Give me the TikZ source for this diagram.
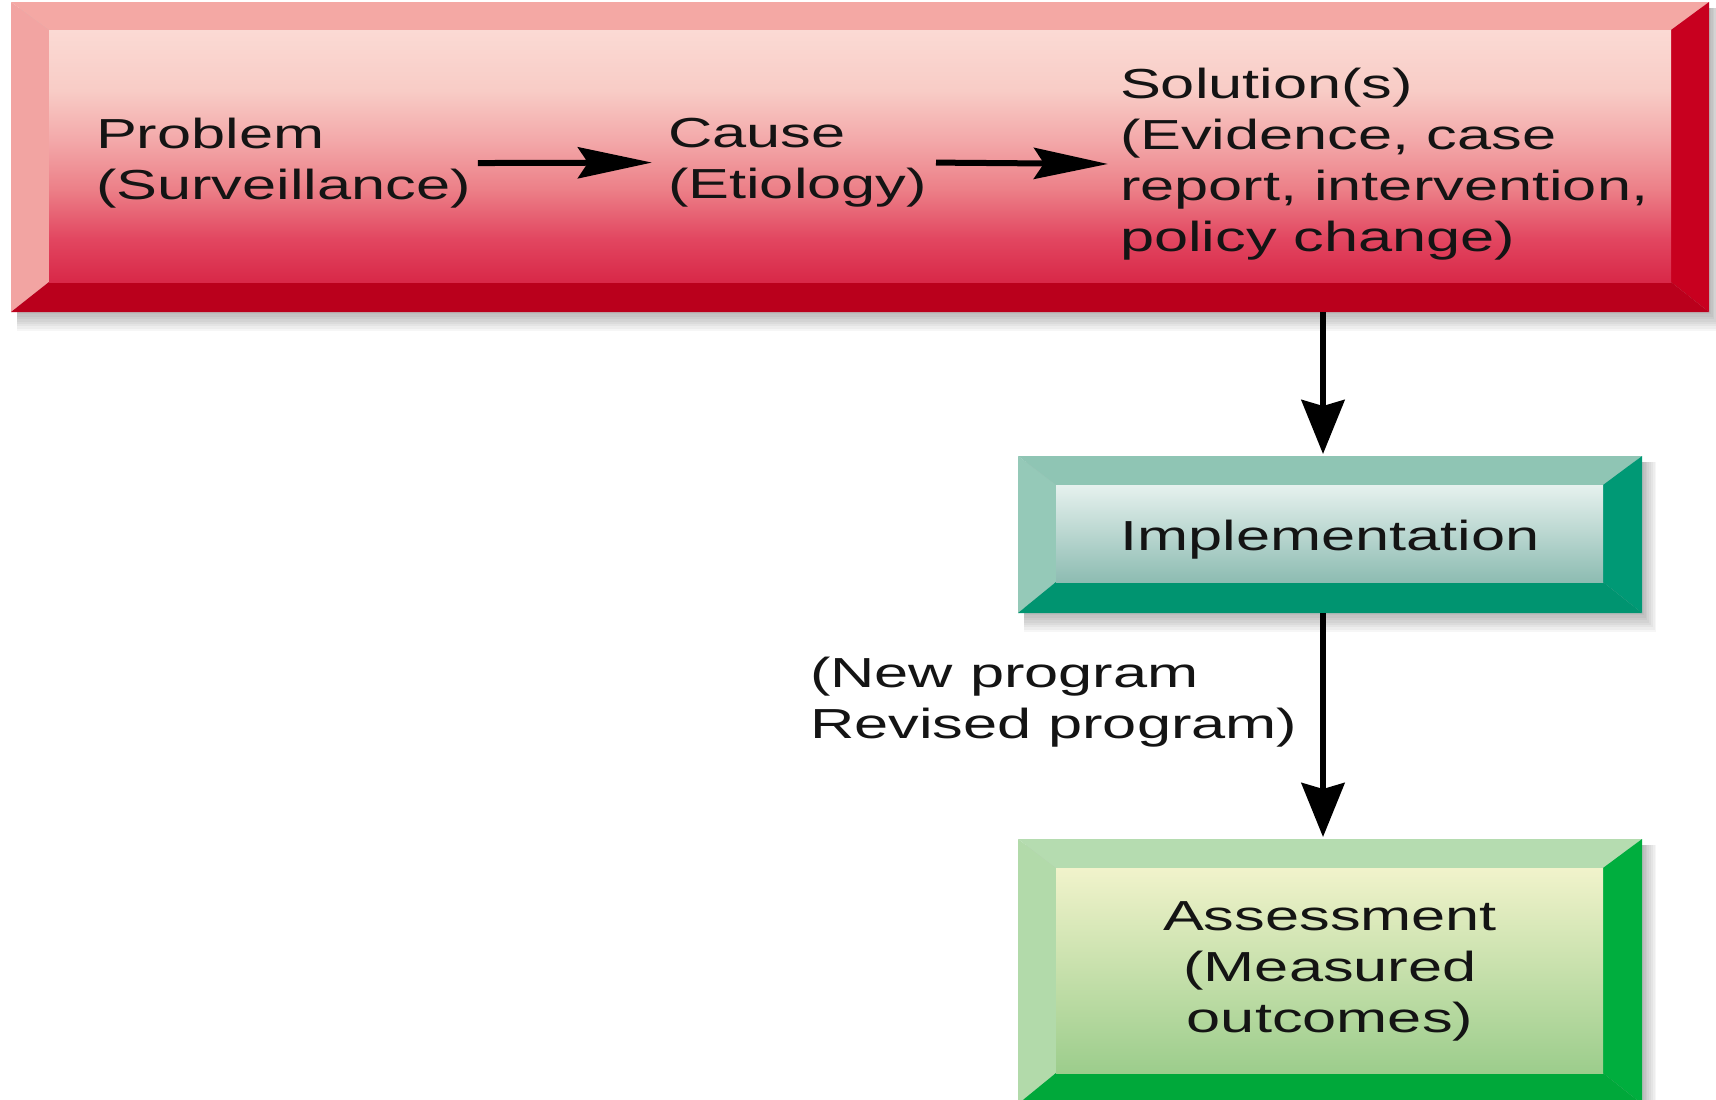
\documentclass[tikz,border=0pt]{standalone}
\usepackage{fontspec}
\setmainfont{Liberation Sans}[FakeStretch=1.46]
\usetikzlibrary{arrows.meta,calc}
\definecolor{redL}{HTML}{F2A4A2}
\definecolor{redT}{HTML}{F4A8A4}
\definecolor{redR}{HTML}{C8001F}
\definecolor{redB}{HTML}{BA001C}
\definecolor{redS0}{HTML}{D82848}
\definecolor{redS1}{HTML}{E24660}
\definecolor{redS2}{HTML}{EC8088}
\definecolor{redS3}{HTML}{F3A8A9}
\definecolor{redS4}{HTML}{F8CCC6}
\definecolor{redS5}{HTML}{FBDAD4}
\definecolor{tealL}{HTML}{95C9B8}
\definecolor{tealT}{HTML}{8FC5B4}
\definecolor{tealR}{HTML}{009975}
\definecolor{tealB}{HTML}{009470}
\definecolor{tealTop}{HTML}{E6F1EE}
\definecolor{tealMid}{HTML}{C4DDD7}
\definecolor{tealBot}{HTML}{8DBCB2}
\definecolor{grnL}{HTML}{B2DAAA}
\definecolor{grnT}{HTML}{B5DCB0}
\definecolor{grnR}{HTML}{00AE3E}
\definecolor{grnB}{HTML}{00A83A}
\definecolor{grnTop}{HTML}{F1F3CB}
\definecolor{grnMid}{HTML}{D0E6B0}
\definecolor{grnBot}{HTML}{9CCD8C}
\definecolor{txt}{HTML}{141414}
\pgfdeclareverticalshading{redpanel}{100bp}{color(0bp)=(redS0); color(25bp)=(redS0); color(33.5bp)=(redS1); color(43.5bp)=(redS2); color(53bp)=(redS3); color(63bp)=(redS4); color(75bp)=(redS5); color(100bp)=(redS5)}
\tikzset{
  outerbox/.style={rectangle, inner sep=0pt, outer sep=0pt},
  lbl/.style={font=\fontsize{42}{51}\selectfont, inner sep=0pt, outer sep=0pt, text=txt},
  varr/.style={line width=6pt, -{Stealth[length=54pt,width=43pt,inset=6pt]}},
  harr/.style={line width=6pt, -{Stealth[length=74pt,width=31pt,inset=10pt]}},
  shadowrect/.style={fill=black, opacity=0.035},
}
\begin{document}
\begin{tikzpicture}[x=1pt,y=-1pt]
\useasboundingbox (0,0) rectangle (1716,1100);
\fill[white] (0,0) rectangle (1716,1100);
\clip (0,0) rectangle (1716,1100);

% ---------- boxes (named outer nodes) ----------
\node[outerbox, minimum width=1698pt, minimum height=310pt] (red) at (860,157) {};
\node[outerbox, minimum width=624pt, minimum height=157pt] (impl) at (1330,534.5) {};
\node[outerbox, minimum width=624pt, minimum height=265pt] (assess) at (1330,971.5) {};

% shadows
\foreach \n in {red,impl,assess}{
  \foreach \i in {1,...,8}{
    \fill[shadowrect] ($(\n.north west)+(6,6)$) rectangle ($(\n.south east)+(1.8*\i,2.4*\i)$);
  }
}

% red bevel
\path (red.north west) ++(38,28) coordinate (r1);
\path (red.south east) ++(-38,-30) coordinate (r2);
\fill[redL] (red.north west) -- (red.south west) -- (r1 |- r2) -- (r1) -- cycle;
\fill[redT] (red.north west) -- (red.north east) -- (r2 |- r1) -- (r1) -- cycle;
\fill[redR] (red.north east) -- (red.south east) -- (r2) -- (r2 |- r1) -- cycle;
\fill[redB] (red.south west) -- (red.south east) -- (r2) -- (r1 |- r2) -- cycle;
\shade[shading=redpanel] (r1) rectangle (r2);

% teal bevel
\path (impl.north west) ++(38,29) coordinate (t1);
\path (impl.south east) ++(-39,-31) coordinate (t2);
\fill[tealL] (impl.north west) -- (impl.south west) -- (t1 |- t2) -- (t1) -- cycle;
\fill[tealT] (impl.north west) -- (impl.north east) -- (t2 |- t1) -- (t1) -- cycle;
\fill[tealR] (impl.north east) -- (impl.south east) -- (t2) -- (t2 |- t1) -- cycle;
\fill[tealB] (impl.south west) -- (impl.south east) -- (t2) -- (t1 |- t2) -- cycle;
\shade[top color=tealTop, middle color=tealMid, bottom color=tealBot] (t1) rectangle (t2);

% green bevel
\path (assess.north west) ++(38,29) coordinate (g1);
\path (assess.south east) ++(-39,-31) coordinate (g2);
\fill[grnL] (assess.north west) -- (assess.south west) -- (g1 |- g2) -- (g1) -- cycle;
\fill[grnT] (assess.north west) -- (assess.north east) -- (g2 |- g1) -- (g1) -- cycle;
\fill[grnR] (assess.north east) -- (assess.south east) -- (g2) -- (g2 |- g1) -- cycle;
\fill[grnB] (assess.south west) -- (assess.south east) -- (g2) -- (g1 |- g2) -- cycle;
\shade[top color=grnTop, middle color=grnMid, bottom color=grnBot] (g1) rectangle (g2);

% ---------- texts ----------
\node[lbl, align=left, anchor=north west] (prob) at (96,118) {Problem\\(Surveillance)};
\node[lbl, align=left, anchor=north west] (cause) at (668,118) {Cause\\(Etiology)};
\node[lbl, align=left, anchor=north west] (sol) at (1120,68) {Solution(s)\\(Evidence, case\\report, intervention,\\policy change)};
\node[lbl, anchor=base] (implText) at (1330,550) {Implementation};
\node[lbl, align=center, anchor=north] (assessText) at (1330,902) {Assessment\\(Measured\\outcomes)};
\node[lbl, align=left, anchor=north west] (prog) at (810,657) {(New program\\Revised program)};

% ---------- connectors ----------
\draw[harr, shorten <=7pt, shorten >=16pt] (prob.east) -- (cause.west);
\draw[harr, shorten <=9pt, shorten >=12pt] (cause.east) -- (sol.west);
\coordinate (implTop) at ([xshift=-7pt]impl.north);
\coordinate (implBot) at ([xshift=-7pt]impl.south);
\coordinate (assessTop) at ([xshift=-7pt]assess.north);
\draw[varr, shorten >=2pt] (red.south -| implTop) -- (implTop);
\draw[varr, shorten >=2pt] (implBot) -- (assessTop);
\end{tikzpicture}
\end{document}
